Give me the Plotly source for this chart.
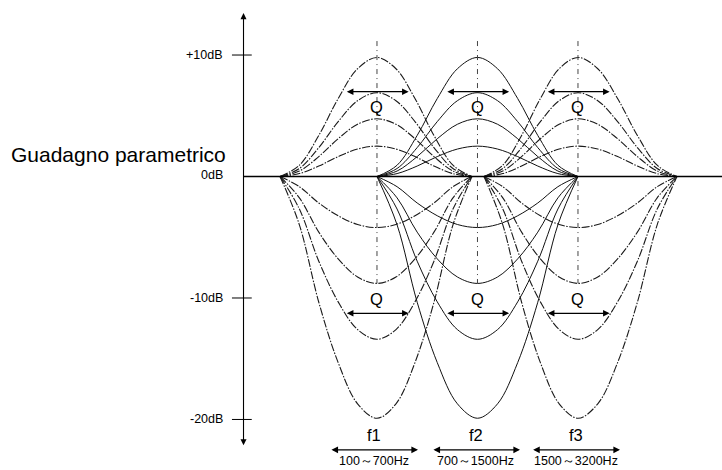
import plotly.graph_objects as go

# band layout (x in band units, band centres at 1, 2, 3)
band_centers = [1.0, 2.0, 3.0]
band_left = [0.035, 1.0, 2.065]
band_right = [1.945, 3.0, 3.985]
band_solid = [False, True, False]

# half profile of each curve (dB), from the centre (u=0) to the band edge (u=1)
u_steps = [0.0, 0.2, 0.4, 0.6, 0.8, 1.0]
curves_db = [
    [9.8, 8.87, 6.42, 3.38, 0.93, 0.0],
    [6.9, 6.24, 4.52, 2.38, 0.66, 0.0],
    [4.75, 4.30, 3.11, 1.64, 0.45, 0.0],
    [2.5, 2.26, 1.64, 0.86, 0.24, 0.0],
    [-4.2, -3.95, -3.23, -2.18, -0.84, 0.0],
    [-8.8, -8.27, -6.78, -4.58, -1.76, 0.0],
    [-13.4, -12.6, -10.32, -6.97, -2.68, 0.0],
    [-19.9, -18.71, -15.32, -10.35, -3.98, 0.0],
]

tick_vals = [10, 0, -10, -20]
tick_text = ["+10dB", "0dB", "-10dB", "-20dB"]

f_labels = ["f1", "f2", "f3"]
f_ranges = ["100～700Hz", "700～1500Hz", "1500～3200Hz"]
f_left = [0.532, 1.547, 2.539]
f_right = [1.408, 2.423, 3.418]

FONT = "Arial, Liberation Sans, sans-serif"
AXIS_X = -0.328

fig = go.Figure()

# EQ curves
for c, lo, hi, solid in zip(band_centers, band_left, band_right, band_solid):
    for prof in curves_db:
        xs = [c - u * (c - lo) for u in reversed(u_steps)] + [c + u * (hi - c) for u in u_steps[1:]]
        ys = list(reversed(prof)) + prof[1:]
        fig.add_trace(go.Scatter(
            x=xs, y=ys, mode="lines",
            line=dict(color="#111" if solid else "#1a1a1a", width=1 if solid else 1.1,
                      shape="spline", dash="solid" if solid else "8px,1.5px,1.5px,1.5px"),
            hoverinfo="skip"))

# centre lines
for c in band_centers:
    fig.add_trace(go.Scatter(
        x=[c, c], y=[11.15, -8.8], mode="lines",
        line=dict(color="#444", width=1, dash="5px,4px,1px,4px"), hoverinfo="skip"))

# 0dB line
fig.add_trace(go.Scatter(x=[AXIS_X, 4.5], y=[0, 0], mode="lines",
                         line=dict(color="black", width=1.3), hoverinfo="skip"))

# tick marks
for v in tick_vals:
    if v != 0:
        fig.add_trace(go.Scatter(x=[-0.443, -0.246], y=[v, v], mode="lines",
                                 line=dict(color="black", width=1), hoverinfo="skip"))

annotations = []


def double_arrow(x0, x1, y0, y1, width=1.2):
    annotations.append(dict(
        x=x1, y=y1, ax=x0, ay=y0, xref="x", yref="y", axref="x", ayref="y",
        text="", showarrow=True, arrowhead=2, arrowside="end+start",
        arrowsize=1.1, arrowwidth=width, arrowcolor="black"))


# vertical axis
double_arrow(AXIS_X, AXIS_X, -22.25, 13.45, width=1.1)

for v, t in zip(tick_vals, tick_text):
    annotations.append(dict(x=-0.51, y=v + (0.1 if v == 0 else 0), xref="x", yref="y",
                            text=t, showarrow=False, xanchor="right", yanchor="middle",
                            font=dict(family=FONT, size=12.5, color="black")))

annotations.append(dict(x=-0.482, y=1.8, xref="x", yref="y", text="Guadagno parametrico",
                        showarrow=False, xanchor="right", yanchor="middle",
                        font=dict(family=FONT, size=21, color="black")))

# Q arrows
for c in band_centers:
    double_arrow(c - 0.315, c + 0.315, 6.98, 6.98)
    double_arrow(c - 0.315, c + 0.315, -11.26, -11.26)
    for y in [5.7, -10.1]:
        annotations.append(dict(x=c, y=y, xref="x", yref="y", text="Q", showarrow=False,
                                font=dict(family=FONT, size=16.5, color="black")))

# frequency ranges
for lab, rng, lo, hi in zip(f_labels, f_ranges, f_left, f_right):
    mid = (lo + hi) / 2
    double_arrow(lo, hi, -22.5, -22.5)
    annotations.append(dict(x=mid, y=-21.3, xref="x", yref="y", text=lab, showarrow=False,
                            font=dict(family=FONT, size=16.5, color="black")))
    annotations.append(dict(x=mid, y=-23.45, xref="x", yref="y", text=rng, showarrow=False,
                            font=dict(family=FONT, size=12.5, color="black")))

fig.update_layout(
    width=722, height=470,
    margin=dict(l=0, r=0, t=0, b=0),
    paper_bgcolor="white", plot_bgcolor="white",
    showlegend=False,
    xaxis=dict(visible=False, range=[-2.751, 4.433], fixedrange=True),
    yaxis=dict(visible=False, range=[-24.16, 14.53], fixedrange=True),
    annotations=annotations,
)

fig.write_html("out.html", config={"displayModeBar": False},
               post_script="document.body.style.margin='0';")
